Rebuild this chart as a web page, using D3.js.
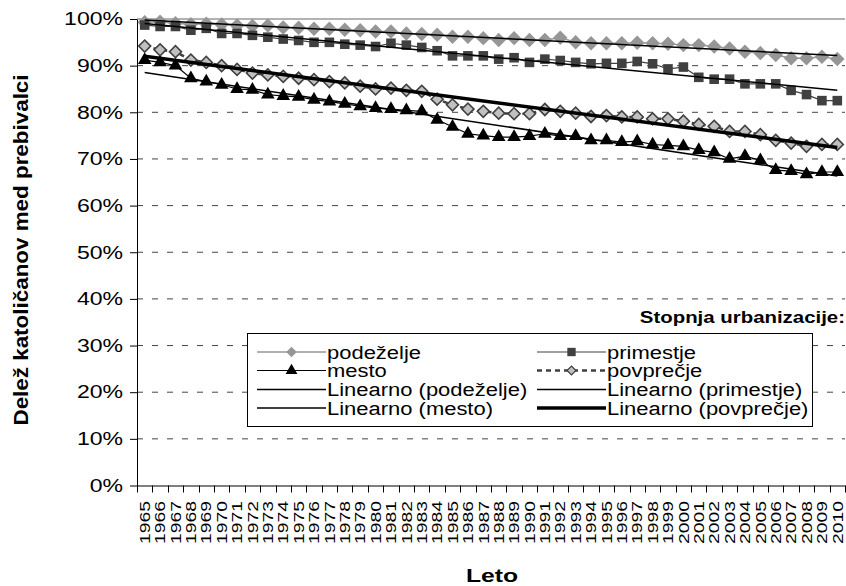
<!DOCTYPE html>
<html>
<head>
<meta charset="utf-8">
<script src="https://cdn.jsdelivr.net/npm/d3@7"></script>
<style>
  body { margin: 0; background: #fff; }
  text { font-family: "Liberation Sans", Arial, sans-serif; fill: #000; }
</style>
</head>
<body>
<svg width="846" height="586" id="chart"></svg>
<script>
// data (share of catholics, %)
const years = [1965, 1966, 1967, 1968, 1969, 1970, 1971, 1972, 1973, 1974, 1975, 1976, 1977, 1978,
  1979, 1980, 1981, 1982, 1983, 1984, 1985, 1986, 1987, 1988, 1989, 1990, 1991, 1992, 1993, 1994,
  1995, 1996, 1997, 1998, 1999, 2000, 2001, 2002, 2003, 2004, 2005, 2006, 2007, 2008, 2009, 2010]
const yTicks = [0, 10, 20, 30, 40, 50, 60, 70, 80, 90, 100]

const podezelje = [99.3, 99.4, 99.1, 98.9, 99.0, 98.8, 98.6, 98.5, 98.6, 98.2, 98.1, 97.9, 97.9, 97.7,
  97.6, 97.3, 97.3, 96.9, 96.8, 96.6, 96.2, 96.2, 95.9, 95.5, 95.9, 95.5, 95.5, 96.0, 95.0, 94.8,
  94.8, 94.8, 94.9, 94.8, 94.7, 94.4, 94.4, 94.1, 93.7, 93.0, 92.7, 92.3, 91.6, 91.6, 91.9, 91.4]
const primestje = [98.7, 98.4, 98.4, 97.6, 98.0, 96.9, 96.9, 96.5, 96.1, 95.7, 95.4, 95.0, 95.0, 94.6,
  94.4, 94.1, 94.8, 94.4, 93.9, 93.2, 92.1, 92.1, 92.1, 91.4, 91.7, 90.7, 91.4, 91.1, 90.7, 90.4,
  90.5, 90.5, 90.9, 90.4, 89.3, 89.7, 87.5, 87.1, 87.1, 86.1, 86.1, 86.1, 84.7, 83.8, 82.5, 82.5]
const mesto = [91.2, 90.7, 90.0, 87.3, 86.6, 85.9, 85.0, 84.8, 83.8, 83.5, 83.3, 82.7, 82.3, 81.8,
  81.3, 80.9, 80.7, 80.4, 80.2, 78.4, 76.9, 75.4, 75.0, 74.7, 74.7, 74.9, 75.4, 74.9, 74.9, 74.0,
  74.0, 73.6, 73.8, 73.1, 72.9, 72.7, 71.9, 71.4, 70.0, 70.6, 69.7, 67.6, 67.4, 66.7, 67.2, 67.2]
const povprecje = [94.2, 93.4, 93.0, 91.2, 90.7, 90.0, 89.2, 88.4, 88.0, 87.7, 87.3, 87.0, 86.6, 86.3,
  85.6, 85.0, 85.2, 84.7, 84.5, 82.8, 81.6, 80.7, 80.2, 79.8, 79.7, 79.7, 80.6, 80.2, 79.8, 79.1,
  79.3, 79.0, 79.0, 78.6, 78.6, 78.1, 77.4, 77.0, 75.9, 75.9, 75.2, 74.0, 73.4, 72.7, 73.1, 73.1]

var svg = d3.select("#chart")

var x = d3.scaleBand().domain(years).range([137, 845])
var y = d3.scaleLinear().domain([0, 100]).range([485.5, 19])
var cx = function(d) { return x(d) + x.bandwidth() / 2 }

// stretch text along its baseline (the original fonts are wide)
function stretch(sel, k) {
  sel.each(function() {
    var w = this.getComputedTextLength()
    d3.select(this).attr("textLength", w * k).attr("lengthAdjust", "spacingAndGlyphs")
  })
}

// gridlines
svg.append("g").selectAll("line")
  .data(yTicks.filter(function(d) { return d > 0 }))
  .enter().append("line")
    .attr("x1", 137).attr("x2", 845)
    .attr("y1", function(d) { return y(d) }).attr("y2", function(d) { return y(d) })
    .attr("stroke", function(d) { return d === 100 ? "#999" : "#444" })
    .attr("stroke-width", function(d) { return d === 100 ? 1.6 : 1 })
    .attr("stroke-dasharray", function(d) { return d === 100 ? null : "6,9" })

// y axis
var yAxis = svg.append("g")
  .attr("transform", "translate(137,0)")
  .call(d3.axisLeft(y).tickValues(yTicks).tickFormat(function(d) { return d + "%" })
    .tickSize(7).tickSizeOuter(0).tickPadding(7))
yAxis.selectAll("line, path").attr("stroke", "#000")
yAxis.selectAll("text").style("font-size", "18px").call(stretch, 1.28)

// x axis
var xAxis = svg.append("g")
  .attr("transform", "translate(0," + y(0) + ")")
  .call(d3.axisBottom(x).tickSize(0).tickSizeOuter(0))
xAxis.select("path").attr("stroke", "#000")
xAxis.selectAll("text")
  .style("font-size", "14.5px")
  .attr("text-anchor", "end")
  .attr("transform", "rotate(-90)")
  .attr("x", -15.5).attr("y", 0).attr("dy", "0.36em")
  .call(stretch, 1.33)

// tick marks sit between categories
var edges = years.map(function(d) { return x(d) }).concat([x.range()[1]])
xAxis.selectAll(".edge").data(edges).enter().append("line")
  .attr("class", "edge")
  .attr("x1", function(d) { return Math.round(d) + 0.5 }).attr("x2", function(d) { return Math.round(d) + 0.5 })
  .attr("y1", 0).attr("y2", 7)
  .attr("stroke", "#000")

// axis titles
svg.append("text")
  .attr("transform", "translate(28,250) rotate(-90)")
  .attr("text-anchor", "middle")
  .style("font-size", "20px").style("font-weight", "bold")
  .text("Delež katoličanov med prebivalci")
  .call(stretch, 1.12)

svg.append("text")
  .attr("x", 492).attr("y", 582)
  .attr("text-anchor", "middle")
  .style("font-size", "19px").style("font-weight", "bold")
  .text("Leto")
  .call(stretch, 1.3)

// series
var diamond = function(size) { return d3.symbol().type(d3.symbolSquare).size(size)() }
var triangle = function(size) { return d3.symbol().type(d3.symbolTriangle).size(size)() }
var square = function(size) { return d3.symbol().type(d3.symbolSquare).size(size)() }

var series = [
  { name: "podeželje", values: podezelje, line: "#969696", width: 1.5, dash: null,
    marker: diamond(105), rotate: 45, fill: "#969696", stroke: "none" },
  { name: "primestje", values: primestje, line: "#404040", width: 1.2, dash: null,
    marker: square(92), rotate: 0, fill: "#404040", stroke: "none" },
  { name: "mesto", values: mesto, line: "#000", width: 1.2, dash: null,
    marker: triangle(80), rotate: 0, fill: "#000", stroke: "none" },
  { name: "povprečje", values: povprecje, line: "#404040", width: 2.5, dash: "5,4",
    marker: diamond(72), rotate: 45, fill: "#c0c0c0", stroke: "#404040" }
]

var line = d3.line()
  .x(function(d) { return cx(d.year) })
  .y(function(d) { return y(d.value) })

series.forEach(function(s) {
  var pts = years.map(function(yr, i) { return { year: yr, value: s.values[i] } })
  svg.append("path")
    .datum(pts)
    .attr("fill", "none")
    .attr("stroke", s.line)
    .attr("stroke-width", s.width)
    .attr("stroke-dasharray", s.dash)
    .attr("d", line)
  svg.append("g").selectAll("path")
    .data(pts)
    .enter().append("path")
      .attr("d", s.marker)
      .attr("transform", function(d) {
        return "translate(" + cx(d.year) + "," + y(d.value) + ") rotate(" + s.rotate + ")"
      })
      .attr("fill", s.fill)
      .attr("stroke", s.stroke)
      .attr("stroke-width", 1.6)
})

// linear trend lines (least squares over the category index)
function trend(values) {
  var n = values.length
  var mx = d3.mean(values, function(v, i) { return i })
  var my = d3.mean(values)
  var sxy = d3.sum(values, function(v, i) { return (i - mx) * (v - my) })
  var sxx = d3.sum(values, function(v, i) { return (i - mx) * (i - mx) })
  var b = sxy / sxx, a = my - b * mx
  return [{ year: years[0], value: a }, { year: years[n - 1], value: a + b * (n - 1) }]
}

var trends = [
  { values: podezelje, width: 1.5 },
  { values: primestje, width: 1.5 },
  { values: mesto, width: 1.5 },
  { values: povprecje, width: 3.5 }
]
trends.forEach(function(t) {
  svg.append("path")
    .datum(trend(t.values))
    .attr("fill", "none")
    .attr("stroke", "#000")
    .attr("stroke-width", t.width)
    .attr("d", line)
})

// legend
svg.append("text")
  .attr("x", 845).attr("y", 323)
  .attr("text-anchor", "end")
  .style("font-size", "17px").style("font-weight", "bold")
  .text("Stopnja urbanizacije:")
  .call(stretch, 1.2)

var legend = svg.append("g")
legend.append("rect")
  .attr("x", 247.5).attr("y", 333.5).attr("width", 565).attr("height", 93)
  .attr("fill", "#fff").attr("stroke", "#000")

var legendItems = [
  { label: "podeželje", col: 0, row: 0, line: "#969696", width: 1.5, dash: null, marker: diamond(55), rotate: 45, fill: "#969696", stroke: "none" },
  { label: "primestje", col: 1, row: 0, line: "#404040", width: 1.2, dash: null, marker: square(70), rotate: 0, fill: "#404040", stroke: "none" },
  { label: "mesto", col: 0, row: 1, line: "#000", width: 1.2, dash: null, marker: triangle(60), rotate: 0, fill: "#000", stroke: "none" },
  { label: "povprečje", col: 1, row: 1, line: "#404040", width: 2.5, dash: "5,4", marker: diamond(40), rotate: 45, fill: "#c0c0c0", stroke: "#404040" },
  { label: "Linearno (podeželje)", col: 0, row: 2, line: "#000", width: 1.5 },
  { label: "Linearno (primestje)", col: 1, row: 2, line: "#000", width: 1.5 },
  { label: "Linearno (mesto)", col: 0, row: 3, line: "#000", width: 1.5 },
  { label: "Linearno (povprečje)", col: 1, row: 3, line: "#000", width: 3.5 }
]
var colX = [257, 537]
var rowY = [352, 370.5, 389.5, 408]

legendItems.forEach(function(d) {
  var x0 = colX[d.col], yy = rowY[d.row]
  legend.append("line")
    .attr("x1", x0).attr("x2", x0 + 69)
    .attr("y1", yy).attr("y2", yy)
    .attr("stroke", d.line).attr("stroke-width", d.width)
    .attr("stroke-dasharray", d.dash || null)
  if (d.marker) {
    legend.append("path")
      .attr("d", d.marker)
      .attr("transform", "translate(" + (x0 + 34.5) + "," + yy + ") rotate(" + d.rotate + ")")
      .attr("fill", d.fill).attr("stroke", d.stroke).attr("stroke-width", 1.2)
  }
  legend.append("text")
    .attr("x", x0 + 70).attr("y", yy + 6.5)
    .style("font-size", "18px")
    .text(d.label)
    .call(stretch, 1.22)
})
</script>
</body>
</html>
